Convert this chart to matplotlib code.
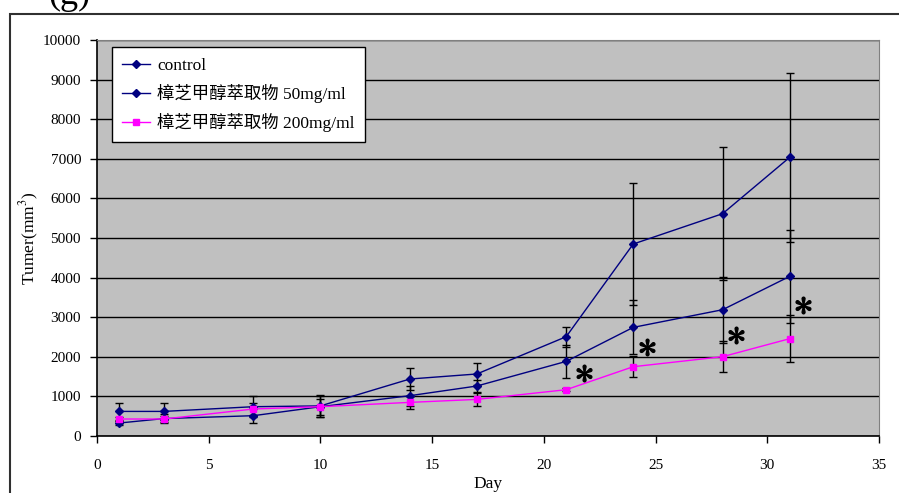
import matplotlib
matplotlib.use("Agg")
import matplotlib.pyplot as plt
from matplotlib.patches import Rectangle

plt.rcParams['font.family'] = ['Liberation Serif', 'Noto Sans CJK TC']
plt.rcParams['mathtext.fontset'] = 'stix'

# tumour volume (mm^3), mean and SD per measuring day
days = [1, 3, 7, 10, 14, 17, 21, 24, 28, 31]
control = [621, 621, 740, 760, 1439, 1566, 2508, 4848, 5614, 7036]
control_sd = [220, 220, 260, 275, 268, 277, 252, 1530, 1674, 2140]
dose50 = [328, 440, 513, 740, 1018, 1262, 1884, 2743, 3189, 4030]
dose50_sd = [60, 110, 178, 270, 255, 150, 415, 680, 835, 1170]
dose200 = [429, 429, 682, 740, 849, 924, 1169, 1750, 2003, 2457]
dose200_sd = [60, 80, 150, 200, 167, 166, 40, 270, 385, 600]

labels = ['control', '樟芝甲醇萃取物 50mg/ml', '樟芝甲醇萃取物 200mg/ml']

# significance markers
sig_x = [21.8, 24.6, 28.6, 31.6]
sig_y = [1580, 2260, 2550, 3310]

fig = plt.figure(figsize=(8.99, 4.93), dpi=100)
ax = fig.add_axes([97 / 899, 57 / 493, 782 / 899, 396 / 493])
ax.set_facecolor('#c0c0c0')

# outer chart frame, runs off the right and bottom edges
fig.patches.append(Rectangle((10 / 899, -0.1), 1.2, 1 - 14 / 493 + 0.1,
                             transform=fig.transFigure, fill=False,
                             edgecolor='#303030', linewidth=1.5))
fig.text(48 / 899, 1 - 4 / 493, '(g)', fontsize=26, ha='left', va='baseline')

series = [
    (control, control_sd, '#000080', 'D', 4),
    (dose50, dose50_sd, '#000080', 'D', 4),
    (dose200, dose200_sd, '#ff00ff', 's', 5),
]
for (y, sd, col, mk, ms), lab in zip(series, labels):
    ax.errorbar(days, y, yerr=sd, fmt='none', ecolor='black', elinewidth=1,
                capsize=3, capthick=1, zorder=3)
    ax.plot(days, y, color=col, marker=mk, markersize=ms, linewidth=1,
            label=lab, zorder=4)

ax.plot(sig_x, sig_y, linestyle='none', marker=r'$\ast$', markersize=12,
        color='black', markeredgewidth=1, zorder=5)

ax.set_xlim(0, 35)
ax.set_ylim(0, 10000)
ax.set_xticks(range(0, 36, 5))
ax.set_yticks(range(0, 10001, 1000))
ax.yaxis.grid(True, color='black', linewidth=1)
ax.set_axisbelow(True)
ax.tick_params(axis='both', direction='out', length=5, width=1, labelsize=11)
ax.tick_params(axis='x', pad=11.5)
ax.tick_params(axis='y', pad=6.5)
for s in ['top', 'right']:
    ax.spines[s].set_color('#808080')
for s in ['left', 'bottom']:
    ax.spines[s].set_color('black')
    ax.spines[s].set_linewidth(1.2)

ax.set_xlabel('Day', fontsize=12.5, labelpad=3)
ax.set_ylabel('Tumer(mm$^3$)', fontsize=12.5, labelpad=1.5)

leg = ax.legend(loc='upper left', bbox_to_anchor=(0.019, 0.982),
                borderaxespad=0, fontsize=12.5, handlelength=1.6,
                labelspacing=0.58, fancybox=False, framealpha=1,
                edgecolor='black', borderpad=0.6, handletextpad=0.4)
leg.get_frame().set_linewidth(1)

fig.savefig('out.png', dpi=100)
